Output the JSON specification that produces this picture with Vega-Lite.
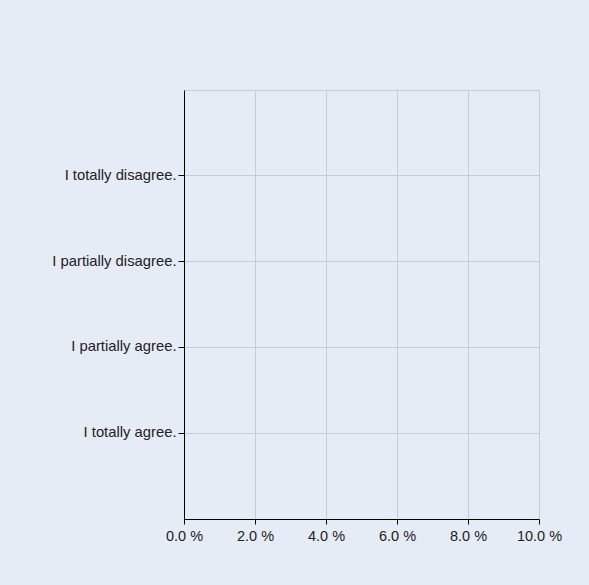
{
  "$schema": "https://vega.github.io/schema/vega-lite/v6.json",
  "width": 355,
  "height": 429,
  "autosize": {"type": "none"},
  "padding": {"left": 184, "top": 90, "right": 50, "bottom": 66},
  "background": "#e6ecf6",
  "data": {
    "values": [
      {"answer": "I totally disagree.", "percent": 0},
      {"answer": "I partially disagree.", "percent": 0},
      {"answer": "I partially agree.", "percent": 0},
      {"answer": "I totally agree.", "percent": 0}
    ]
  },
  "mark": {"type": "bar", "color": "#4f81bd"},
  "encoding": {
    "y": {
      "field": "answer",
      "type": "nominal",
      "sort": null,
      "title": null,
      "scale": {"paddingInner": 0, "paddingOuter": 0.5},
      "axis": {
        "bandPosition": 0.5,
        "grid": true,
        "gridColor": "#c8ccd2",
        "domainColor": "#000000",
        "tickColor": "#000000",
        "tickSize": 6,
        "labelPadding": 2,
        "labelFont": "Liberation Sans",
        "labelFontSize": 14.8,
        "labelColor": "#222222"
      }
    },
    "x": {
      "field": "percent",
      "type": "quantitative",
      "title": null,
      "scale": {"domain": [0, 10], "nice": false},
      "axis": {
        "values": [0, 2, 4, 6, 8, 10],
        "labelExpr": "format(datum.value, '.1f') + ' %'",
        "labelFlush": false,
        "grid": true,
        "gridColor": "#c8ccd2",
        "domainColor": "#000000",
        "tickColor": "#000000",
        "tickSize": 5,
        "labelPadding": 5,
        "labelFont": "Liberation Sans",
        "labelFontSize": 14.5,
        "labelColor": "#222222"
      }
    }
  },
  "config": {"view": {"stroke": "#c8ccd2"}}
}
